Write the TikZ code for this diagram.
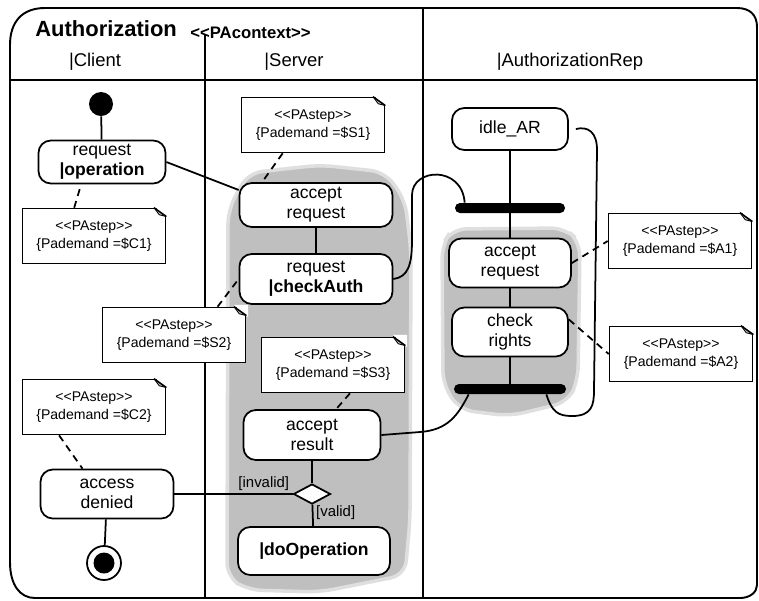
\documentclass[tikz,border=0pt]{standalone}
\usepackage{fontspec}
\setmainfont{Liberation Sans}
\usetikzlibrary{shapes.geometric}

\tikzset{
  action/.style={draw, line width=1pt, rounded corners=7pt, fill=white, align=center,
    inner sep=0pt, font=\fontsize{10}{11.5}\selectfont},
  note/.style={draw, line width=.9pt, fill=white, align=center, inner sep=0pt,
    minimum width=2.86cm, minimum height=1.1cm, font=\fontsize{8}{10.5}\selectfont},
  bar/.style={fill=black, rounded corners=2.8pt, inner sep=0pt, minimum height=0.2cm},
  lane/.style={anchor=base, inner sep=0pt, font=\fontsize{10.5}{12}\selectfont},
  guard/.style={font=\fontsize{8.5}{10}\selectfont, inner sep=1.5pt},
  link/.style={line width=1pt},
  trace/.style={line width=1pt, dash pattern=on 4pt off 3pt},
  region/.style={fill=gray!50, draw=gray!25, line width=2pt, rounded corners=8pt},
}

% a PAstep note with its folded corner
\newcommand{\pastep}[3]{%
  \node[note] (#1) at (#2) {<{}<PAstep>{}>\\\{Pademand =\$#3\}};
  \fill[white] ([xshift=-7pt,yshift=1pt]#1.north east) -- ([xshift=1pt,yshift=1pt]#1.north east)
    -- ([xshift=1pt,yshift=-6pt]#1.north east) -- cycle;
  \draw[line width=.5pt, fill=gray!40] ([xshift=-7pt]#1.north east) -- ([xshift=-4pt,yshift=-4pt]#1.north east)
    -- ([yshift=-5pt]#1.north east);
  \draw[line width=.9pt] ([xshift=-7pt]#1.north east) -- ([yshift=-5pt]#1.north east);
}

\begin{document}
\begin{tikzpicture}[x=0.02cm, y=-0.02cm]
  \useasboundingbox (0,0) rectangle (759,600);

  % frame and swimlanes
  \draw[line width=1.1pt] (10,45) .. controls (10,22) and (22,8) .. (45,8) -- (737,8)
    .. controls (750,8) and (757,15) .. (757,27) -- (757,585)
    .. controls (757,592) and (750,598) .. (740,598) -- (35,598)
    .. controls (20,598) and (10,585) .. (10,562) -- cycle;
  \draw[line width=1pt] (10,80) -- (757,80);
  \draw[line width=1pt] (205,35) -- (205,598);
  \draw[line width=1pt] (423,8) -- (423,598);

  \node[anchor=base west, inner sep=0pt, font=\fontsize{12.5}{14}\selectfont\bfseries] (title) at (35,36) {Authorization};
  \node[anchor=base west, inner sep=0pt, font=\fontsize{9.5}{11}\selectfont\bfseries] (ctx) at (190,38) {<{}<PAcontext>{}>};
  \node[lane] (client) at (95,66) {|Client};
  \node[lane] (server) at (294,66) {|Server};
  \node[lane] (rep) at (570,66) {|AuthorizationRep};

  % grey regions
  \draw[region] (228,210) -- (248,173) -- (320,165) -- (385,172) -- (405,200) -- (411,250)
    -- (410,520) -- (405,575) -- (320,592) -- (248,590) -- (227,577) -- cycle;
  \draw[region] (442,245) -- (452,229) -- (565,228) -- (580,242) -- (578,380) -- (568,402)
    -- (510,416) -- (460,410) -- (443,385) -- cycle;

  % Client
  \node[circle, fill=black, minimum size=0.48cm, inner sep=0pt] (init) at (101,104) {};
  \node[action, minimum width=2.54cm, minimum height=0.86cm] (reqop) at (102,162) {request\\\textbf{|operation}};
  \node[action, minimum width=2.66cm, minimum height=0.98cm] (denied) at (107,494) {access\\denied};
  \node[circle, draw, line width=1pt, minimum size=0.68cm, inner sep=0pt,
    path picture={\fill (path picture bounding box.center) circle (0.21cm);}] (final) at (104,563) {};

  % Server
  \node[action, minimum width=3.06cm, minimum height=0.88cm] (accS) at (316,205) {accept\\request};
  \node[action, minimum width=3.06cm, minimum height=1cm] (chk) at (316,279) {request\\\textbf{|checkAuth}};
  \node[action, minimum width=2.74cm, minimum height=1cm] (accR) at (312,435) {accept\\result};
  \node[diamond, draw, line width=1pt, fill=white, aspect=1.9, minimum width=0.74cm,
    minimum height=0.4cm, inner sep=0pt] (dec) at (312,494) {};
  \node[action, minimum width=3.04cm, minimum height=0.96cm] (doop) at (314,551) {\textbf{|doOperation}};

  % AuthorizationRep
  \node[action, minimum width=2.32cm, minimum height=0.84cm] (idle) at (510,129) {idle\_AR};
  \node[bar, minimum width=2.2cm] (fork1) at (510,208) {};
  \node[action, minimum width=2.44cm, minimum height=0.98cm] (accAR) at (510,263) {accept\\request};
  \node[action, minimum width=2.32cm, minimum height=0.98cm] (chkr) at (510,332) {check\\rights};
  \node[bar, minimum width=2.24cm] (join) at (510,389) {};

  % notes
  \pastep{c1}{94,236}{C1}
  \pastep{c2}{94,407}{C2}
  \pastep{s1}{313,125}{S1}
  \pastep{s2}{174,335}{S2}
  \pastep{s3}{333,365}{S3}
  \pastep{a1}{680,241}{A1}
  \pastep{a2}{681,354}{A2}

  % flows
  \draw[link] (init) -- (reqop);
  \draw[link] (reqop.east) -- (accS.169);
  \draw[link] (accS) -- (chk);
  \draw[link] (chk.east) .. controls (408,277) and (412,265) .. (412,240) -- (412,195)
    .. controls (412,168) and (462,165) .. ([xshift=0.2cm]fork1.north west);
  \draw[link] (idle) -- (fork1);
  \draw[link] (fork1) -- (accAR);
  \draw[link] (accAR) -- (chkr);
  \draw[link] (chkr) -- (join);
  \draw[link] ([xshift=0.3cm]join.south west) .. controls (458,415) and (448,430) .. (420,432) -- (accR.east);
  \draw[link] ([xshift=-0.4cm]join.south east) .. controls (552,412) and (558,416) .. (572,416)
    .. controls (592,416) and (594,405) .. (594,390) -- (597,150)
    .. controls (597,132) and (588,126) .. ([xshift=0.14cm]idle.east);
  \draw[link] (accR) -- (dec);
  \draw[link] (dec) -- node[guard, right, pos=0.35] {[valid]} (doop);
  \draw[link] (dec.west) -- node[guard, above left, pos=0] {[invalid]} (denied.east);
  \draw[link] (denied) -- (final);

  % note links
  \draw[trace] (c1.125) -- (reqop.227);
  \draw[trace] (s1.223) -- (accS.157);
  \draw[trace] (s2.33) -- (chk.west);
  \draw[trace] (s3.301) -- (accR.47);
  \draw[trace] (c2.219) -- (denied.134);
  \draw[trace] (accAR.east) -- (a1.west);
  \draw[trace] (chkr.12) -- (a2.west);
\end{tikzpicture}
\end{document}
